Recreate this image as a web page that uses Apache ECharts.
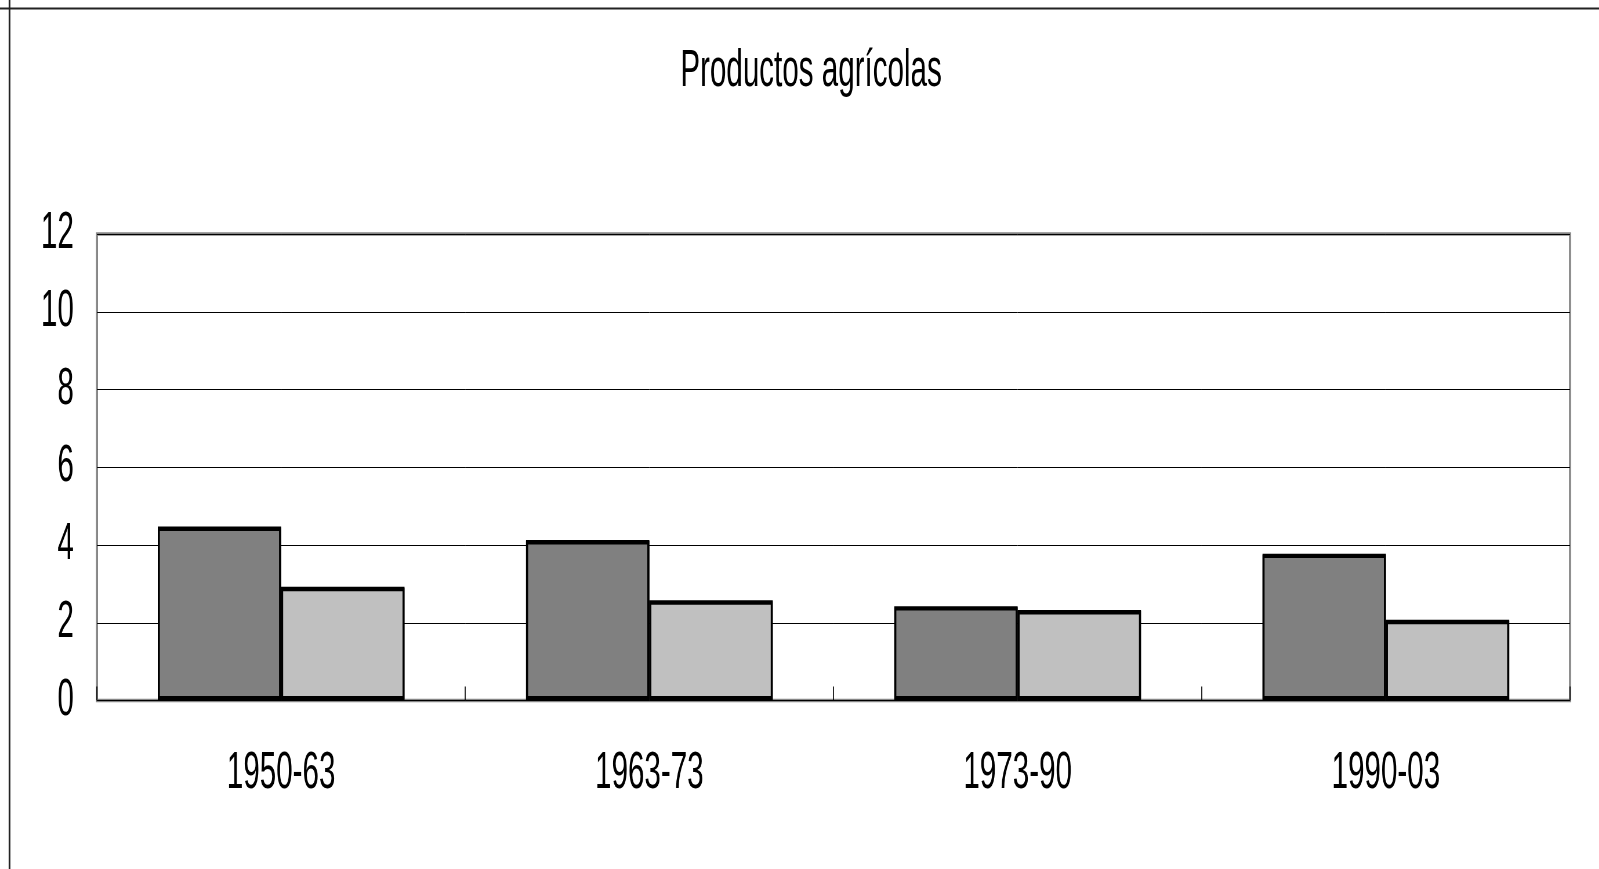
<!DOCTYPE html>
<html>
<head>
<meta charset="utf-8">
<script src="https://cdn.jsdelivr.net/npm/echarts@6/dist/echarts.min.js"></script>
<style>
html,body{margin:0;padding:0;background:#fff;overflow:hidden;width:1599px;height:869px;}
#wrap{position:absolute;left:0;top:0;width:2757px;height:869px;transform:scaleX(0.58);transform-origin:0 0;}
#chart{width:2757px;height:869px;}
</style>
</head>
<body>
<div id="wrap"><div id="chart"></div></div>
<script>
// Data
const categories = ['1950-63', '1963-73', '1973-90', '1990-03'];
const seriesA = [4.45, 4.1, 2.4, 3.75];
const seriesB = [2.9, 2.55, 2.3, 2.05];
const yTicks = { min: 0, max: 12, interval: 2 };
const titleText = 'Productos agrícolas';

const SX = 0.58; // horizontal condensation of the whole picture
const FONT = 'Liberation Sans, Arial, sans-serif';

const chart = echarts.init(document.getElementById('chart'), null, { renderer: 'canvas' });
chart.setOption({
  backgroundColor: '#ffffff',
  animation: false,
  title: {
    text: titleText,
    left: 1173,
    top: 46,
    padding: 0,
    textStyle: { fontFamily: FONT, fontSize: 51, fontWeight: 'normal', color: '#000' }
  },
  graphic: [
    { type: 'line', shape: { x1: 9.5 / SX, y1: 0, x2: 9.5 / SX, y2: 2000 }, style: { stroke: '#222', lineWidth: 3 } },
    { type: 'line', shape: { x1: 0, y1: 8.5, x2: 5000, y2: 8.5 }, style: { stroke: '#222', lineWidth: 2 } }
  ],
  grid: {
    left: 97 / SX,
    right: 2757 - 1570 / SX,
    top: 234,
    bottom: 168.5,
    show: true,
    borderColor: '#868686',
    borderWidth: 3.5,
    backgroundColor: 'transparent'
  },
  xAxis: {
    type: 'category',
    data: categories,
    axisLine: { show: false },
    axisTick: { show: true, inside: true, length: 14, lineStyle: { color: '#000', width: 1.7 } },
    axisLabel: { margin: 48, fontFamily: FONT, fontSize: 51, color: '#000' },
    splitLine: { show: false }
  },
  yAxis: {
    type: 'value',
    min: yTicks.min,
    max: yTicks.max,
    interval: yTicks.interval,
    axisLine: { show: false },
    axisTick: { show: false },
    axisLabel: { margin: 40, fontFamily: FONT, fontSize: 51, color: '#000' },
    splitLine: { show: true, lineStyle: { color: '#000', width: 1 } }
  },
  series: [
    {
      type: 'bar',
      data: seriesA,
      barGap: '0%',
      barCategoryGap: '33%',
      itemStyle: { color: '#808080', borderColor: '#000', borderWidth: 3.4, shadowColor: '#000', shadowOffsetY: -1, shadowBlur: 0 }
    },
    {
      type: 'bar',
      data: seriesB,
      barGap: '0%',
      barCategoryGap: '33%',
      itemStyle: { color: '#C0C0C0', borderColor: '#000', borderWidth: 3.4, shadowColor: '#000', shadowOffsetY: -1, shadowBlur: 0 }
    }
  ]
});
</script>
</body>
</html>
